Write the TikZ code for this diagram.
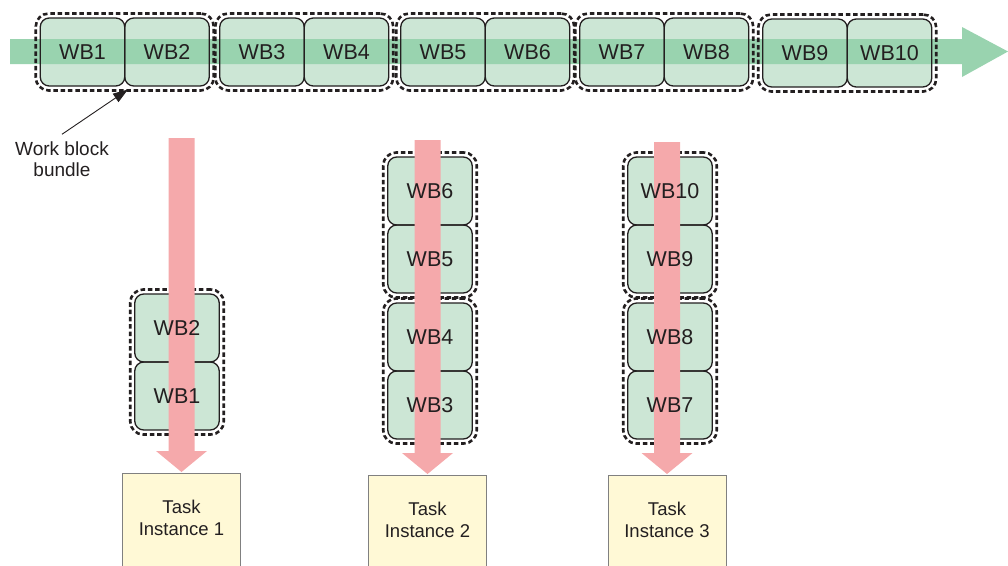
\documentclass[tikz,border=0pt]{standalone}
\usepackage{fontspec}
\setmainfont{Liberation Sans}
\usetikzlibrary{fit,calc,arrows.meta}

\definecolor{boxfill}{HTML}{CCE6D5}
\definecolor{bandgreen}{HTML}{99D3AF}
\definecolor{flowpink}{HTML}{F5A9AB}
\definecolor{taskfill}{HTML}{FFF9D6}
\definecolor{taskline}{HTML}{808080}
\definecolor{ink}{HTML}{231F20}

\pgfdeclarelayer{fills}
\pgfdeclarelayer{bands}
\pgfdeclarelayer{pinks}
\pgfdeclarelayer{labels}
\pgfsetlayers{fills,bands,main,pinks,labels}

\tikzset{
  wbframe/.style={draw=ink, line width=1.3pt, rounded corners=9pt,
    minimum width=84.5pt, minimum height=68pt, inner sep=0pt, outer sep=0pt},
  wbtext/.style={text=ink, font=\fontsize{21.5}{25}\selectfont, inner sep=0pt},
  bundle/.style={draw=ink, line width=2.6pt, dash pattern=on 4.5pt off 2.8pt,
    rounded corners=13pt, inner sep=4.5pt},
  taskframe/.style={draw=taskline, fill=taskfill, line width=1pt,
    minimum width=118pt, minimum height=110pt, anchor=north, inner sep=0pt},
  tasktext/.style={text=ink, align=center, font=\fontsize{18.5}{22}\selectfont, inner sep=0pt},
  notetext/.style={text=ink, align=center, font=\fontsize{19}{21.5}\selectfont,
    inner sep=0pt, outer ysep=7pt},
}

% a work block: outline on the main layer, fill below, label on top
\newcommand\workblock[4]{%
  \node[wbframe] (#1) at (#2,#3) {};
  \begin{pgfonlayer}{fills}
    \fill[boxfill, rounded corners=9pt] (#1.south west) rectangle (#1.north east);
  \end{pgfonlayer}
  \begin{pgfonlayer}{labels}
    \node[wbtext] (#1-label) at (#1.center) {#4};
  \end{pgfonlayer}
}

% a task instance with the pink flow arrow coming down into it
\newcommand\taskflow[5]{% name, x, top of task, start of flow, number
  \node[taskframe] (#1) at (#2,#3) {};
  \begin{pgfonlayer}{labels}
    \node[tasktext] (#1-label) at ($(#1.north)+(0,45)$) {Task\\Instance #5};
  \end{pgfonlayer}
  \coordinate (#1-src) at (#2,#4);
  \begin{pgfonlayer}{pinks}
    \fill[flowpink] ($(#1-src)+(-13,0)$) -- ($(#1-src)+(13,0)$)
      -- ($(#1.north)+(13,-22)$) -- ($(#1.north)+(25.5,-22)$)
      -- ($(#1.north)+(0,-1)$)
      -- ($(#1.north)+(-25.5,-22)$) -- ($(#1.north)+(-13,-22)$) -- cycle;
  \end{pgfonlayer}
}

\begin{document}
\begin{tikzpicture}[x=1pt, y=-1pt]
\useasboundingbox (0,0) rectangle (1008,565);
\clip (0,0) rectangle (1008,565);

% ---- the stream of work blocks ----
\workblock{t1}{82.5}{52}{WB1}
\workblock{t2}{167}{52}{WB2}
\workblock{t3}{262}{52}{WB3}
\workblock{t4}{346.5}{52}{WB4}
\workblock{t5}{443}{52}{WB5}
\workblock{t6}{527.5}{52}{WB6}
\workblock{t7}{622}{52}{WB7}
\workblock{t8}{706.5}{52}{WB8}
\workblock{t9}{805}{53}{WB9}
\workblock{t10}{889.5}{53}{WB10}

\node[bundle, fit=(t1)(t2)] (b1) {};
\node[bundle, fit=(t3)(t4)] (b2) {};
\node[bundle, fit=(t5)(t6)] (b3) {};
\node[bundle, fit=(t7)(t8)] (b4) {};
\node[bundle, fit=(t9)(t10)] (b5) {};

\begin{pgfonlayer}{bands}
  \coordinate (stream-start) at (10,51.5);
  \coordinate (stream-end) at (1008,51.5);
  \fill[bandgreen] ($(stream-start)+(0,-12.5)$) -- (962,39) -- (962,27)
    -- (stream-end) -- (962,77) -- (962,64) -- ($(stream-start)+(0,12.5)$) -- cycle;
\end{pgfonlayer}

% ---- annotation ----
\node[notetext] (note) at (62,159) {Work block\\bundle};
\coordinate (note-tip) at (128,89.5);
\draw[ink, line width=0.9pt, -{Triangle[length=15pt,width=10pt]}] (note.north) -- (note-tip);

% ---- instance 1 ----
\workblock{c1b}{177}{328}{WB2}
\workblock{c1a}{177}{396}{WB1}
\node[bundle, fit=(c1b)(c1a)] (cb1) {};
\taskflow{task1}{181.5}{473}{138}{1}

% ---- instance 2 ----
\workblock{c2d}{430}{191}{WB6}
\workblock{c2c}{430}{259}{WB5}
\workblock{c2b}{430}{337}{WB4}
\workblock{c2a}{430}{405}{WB3}
\node[bundle, fit=(c2d)(c2c)] (cb2) {};
\node[bundle, fit=(c2b)(c2a)] (cb3) {};
\taskflow{task2}{427.5}{475}{140}{2}

% ---- instance 3 ----
\workblock{c3d}{670}{191}{WB10}
\workblock{c3c}{670}{259}{WB9}
\workblock{c3b}{670}{337}{WB8}
\workblock{c3a}{670}{405}{WB7}
\node[bundle, fit=(c3d)(c3c)] (cb4) {};
\node[bundle, fit=(c3b)(c3a)] (cb5) {};
\taskflow{task3}{667}{475}{142}{3}
\end{tikzpicture}
\end{document}
